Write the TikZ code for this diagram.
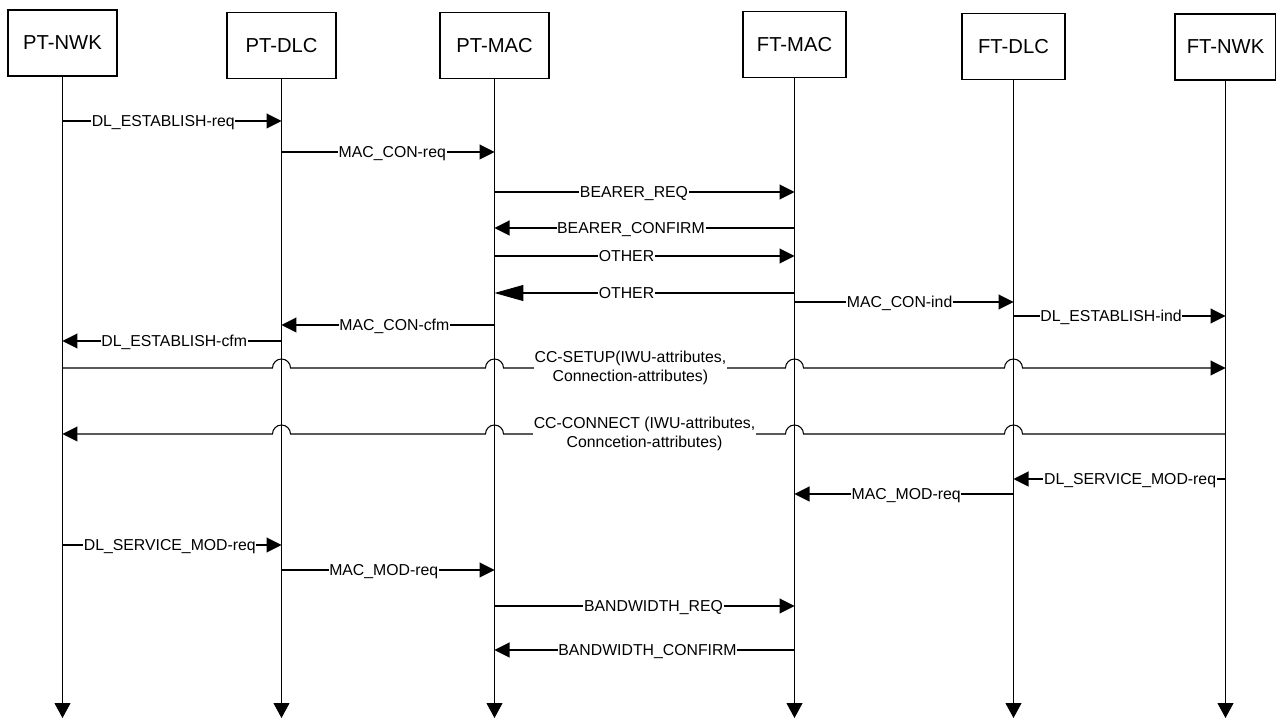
\documentclass[tikz,border=0pt]{standalone}
\usepackage{fontspec}
\setmainfont{Liberation Sans}
\usetikzlibrary{arrows.meta}
\tikzset{
  entity/.style={draw, minimum width=2.18cm, minimum height=1.32cm, inner sep=0pt, font=\fontsize{11.5}{13}\selectfont},
  life/.style={-{Triangle[length=0.3cm,width=0.32cm]}},
  msg/.style={-{Triangle[length=0.3cm,width=0.3cm]}},
  bigmsg/.style={-{Triangle[length=0.58cm,width=0.32cm]}},
  lbl2/.style={fill=white, inner xsep=0.4pt, inner ysep=0.5pt, align=center, font=\fontsize{9}{10.5}\selectfont},
  lbl/.style={lbl2, text depth=0pt}
}
\begin{document}
\begin{tikzpicture}[x=0.02cm, y=-0.02cm, line width=0.6pt]
\useasboundingbox (0,0) rectangle (1276,719);
\node (ptnwk) at (62.5,43) [entity] {PT-NWK};
\node (ptdlc) at (281.5,45.5) [entity] {PT-DLC};
\node (ptmac) at (494.5,45.5) [entity] {PT-MAC};
\node (ftmac) at (794.5,44.5) [entity, minimum width=2.06cm] {FT-MAC};
\node (ftdlc) at (1013.5,46.5) [entity, minimum width=2.06cm] {FT-DLC};
\node (ftnwk) at (1225.5,47) [entity, minimum width=2.02cm] {FT-NWK};
\coordinate (bottom) at (0,718);
\foreach \n in {ptnwk,ptdlc,ptmac,ftmac,ftdlc,ftnwk}
  \draw [life] (\n.south) -- (\n.south |- bottom);
\draw [msg] (ptnwk |- 0,121) -- node [lbl, pos=0.46] {DL\_ESTABLISH-req} (ptdlc |- 0,121);
\draw [msg] (ptdlc |- 0,152) -- node [lbl, pos=0.52] {MAC\_CON-req} (ptmac |- 0,152);
\draw [msg] (ptmac |- 0,192) -- node [lbl, pos=0.465] {BEARER\_REQ} (ftmac |- 0,192);
\draw [msg] (ftmac |- 0,228) -- node [lbl, pos=0.545] {BEARER\_CONFIRM} (ptmac |- 0,228);
\draw [msg] (ptmac |- 0,256) -- node [lbl, pos=0.44] {OTHER} (ftmac |- 0,256);
\draw [bigmsg] (ftmac |- 0,293) -- node [lbl, pos=0.56] {OTHER} (ptmac |- 0,293);
\draw [msg] (ftmac |- 0,302) -- node [lbl, pos=0.48] {MAC\_CON-ind} (ftdlc |- 0,302);
\draw [msg] (ftdlc |- 0,316) -- node [lbl, pos=0.46] {DL\_ESTABLISH-ind} (ftnwk |- 0,316);
\draw [msg] (ptmac |- 0,325) -- node [lbl, pos=0.47] {MAC\_CON-cfm} (ptdlc |- 0,325);
\draw [msg] (ptdlc |- 0,341) -- node [lbl, pos=0.49] {DL\_ESTABLISH-cfm} (ptnwk |- 0,341);
\draw [msg] (ptnwk |- 0,368) -- ([xshift=-0.18cm] ptdlc |- 0,368) arc [start angle=180, end angle=0, radius=0.18cm]
  -- ([xshift=-0.18cm] ptmac |- 0,368) arc [start angle=180, end angle=0, radius=0.18cm]
  -- node [lbl2, pos=0.45] {CC-SETUP(IWU-attributes,\\Connection-attributes)} ([xshift=-0.18cm] ftmac |- 0,368) arc [start angle=180, end angle=0, radius=0.18cm]
  -- ([xshift=-0.18cm] ftdlc |- 0,368) arc [start angle=180, end angle=0, radius=0.18cm]
  -- (ftnwk |- 0,368);
\draw [msg] (ftnwk |- 0,434) -- ([xshift=0.18cm] ftdlc |- 0,434) arc [start angle=0, end angle=180, radius=0.18cm]
  -- ([xshift=0.18cm] ftmac |- 0,434) arc [start angle=0, end angle=180, radius=0.18cm]
  -- node [lbl2, pos=0.5] {CC-CONNECT (IWU-attributes,\\Conncetion-attributes)} ([xshift=0.18cm] ptmac |- 0,434) arc [start angle=0, end angle=180, radius=0.18cm]
  -- ([xshift=0.18cm] ptdlc |- 0,434) arc [start angle=0, end angle=180, radius=0.18cm]
  -- (ptnwk |- 0,434);
\draw [msg] (ftnwk |- 0,479) -- node [lbl, pos=0.45] {DL\_SERVICE\_MOD-req} (ftdlc |- 0,479);
\draw [msg] (ftdlc |- 0,494) -- node [lbl, pos=0.49] {MAC\_MOD-req} (ftmac |- 0,494);
\draw [msg] (ptnwk |- 0,545) -- node [lbl, pos=0.49] {DL\_SERVICE\_MOD-req} (ptdlc |- 0,545);
\draw [msg] (ptdlc |- 0,570) -- node [lbl, pos=0.48] {MAC\_MOD-req} (ptmac |- 0,570);
\draw [msg] (ptmac |- 0,606) -- node [lbl, pos=0.53] {BANDWIDTH\_REQ} (ftmac |- 0,606);
\draw [msg] (ftmac |- 0,650) -- node [lbl, pos=0.49] {BANDWIDTH\_CONFIRM} (ptmac |- 0,650);
\end{tikzpicture}
\end{document}
